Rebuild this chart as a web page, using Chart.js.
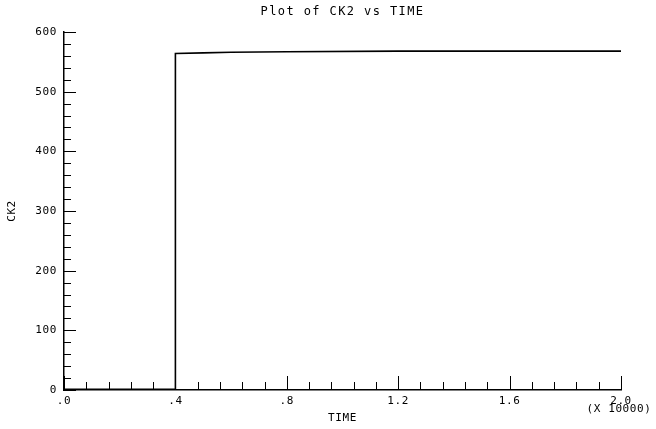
<!DOCTYPE html>
<html>
<head>
<meta charset="utf-8">
<script src="https://cdn.jsdelivr.net/npm/chart.js@4/dist/chart.umd.min.js"></script>
<style>
  html, body { margin: 0; padding: 0; background: #fff; }
  #wrap { width: 656px; height: 429px; }
</style>
</head>
<body>
<div id="wrap"><canvas id="chart" width="656" height="429"></canvas></div>
<script>
// data (time in seconds, axis shown x 10000)
const timeValues = [0, 2000, 3990, 4000, 5000, 6000, 8000, 12000, 16000, 20000];
const ck2Values  = [1, 1, 1, 564, 565, 566, 567, 568, 568, 568];

const xMajorStep = 4000;
const xMinorStep = 800;
const yMajorStep = 100;
const yMinorStep = 20;

const FONT = '"DejaVu Sans Mono", "Liberation Mono", monospace';

// ticks point into the plot, drawn from the chart's own scales
const plotterTicks = {
    id: 'plotterTicks',
    beforeDraw(chart) {
        chart.ctx.letterSpacing = '0.6px';
    },
    afterDraw(chart) {
        const ctx = chart.ctx;
        const xs = chart.scales.x;
        const ys = chart.scales.y;
        const area = chart.chartArea;
        ctx.save();
        ctx.strokeStyle = '#000';
        ctx.lineWidth = 1;
        ctx.beginPath();
        for (let v = 0; v <= xs.max + 1; v += xMinorStep) {
            const px = Math.round(xs.getPixelForValue(v)) + 0.5;
            const len = v % xMajorStep === 0 ? 14 : 8;
            ctx.moveTo(px, area.bottom);
            ctx.lineTo(px, area.bottom - len);
        }
        for (let v = 0; v <= ys.max + 1; v += yMinorStep) {
            const py = Math.round(ys.getPixelForValue(v)) + 0.5;
            const len = v % yMajorStep === 0 ? 12 : 7;
            ctx.moveTo(area.left, py);
            ctx.lineTo(area.left + len, py);
        }
        ctx.stroke();

        ctx.fillStyle = '#000';
        ctx.letterSpacing = '1.4px';
        ctx.font = '12px ' + FONT;
        ctx.textAlign = 'center';
        ctx.textBaseline = 'middle';
        ctx.fillText('Plot of CK2 vs TIME', (area.left + area.right) / 2, 12);

        ctx.letterSpacing = '0.6px';
        ctx.font = '11px ' + FONT;
        ctx.fillText('(X 10000)', 619, 409);
        ctx.restore();
    }
};

new Chart(document.getElementById('chart'), {
    type: 'scatter',
    data: {
        datasets: [{
            data: timeValues.map((t, i) => ({ x: t, y: ck2Values[i] })),
            showLine: true,
            borderColor: '#000',
            borderWidth: 1.6,
            pointRadius: 0,
            tension: 0
        }]
    },
    options: {
        responsive: false,
        animation: false,
        layout: { padding: { top: 32, right: 35, left: 0, bottom: 0 } },
        plugins: {
            legend: { display: false },
            tooltip: { enabled: false }
        },
        scales: {
            x: {
                type: 'linear',
                min: 0,
                max: 20000,
                afterFit(scale) { scale.height = 39; },
                grid: { display: false, drawTicks: false },
                border: { display: true, color: '#000', width: 1.5 },
                ticks: {
                    stepSize: xMinorStep,
                    autoSkip: false,
                    maxRotation: 0,
                    padding: 5,
                    color: '#000',
                    font: { family: FONT, size: 11 },
                    callback(v) {
                        if (v % xMajorStep !== 0) return '';
                        const s = (v / 10000).toFixed(1);
                        return s.startsWith('0') ? s.slice(1) : s;
                    }
                },
                title: {
                    display: true,
                    text: 'TIME',
                    color: '#000',
                    font: { family: FONT, size: 11 },
                    padding: { top: 0, bottom: 4 }
                }
            },
            y: {
                type: 'linear',
                min: 0,
                max: 600,
                afterFit(scale) { scale.width = 64; },
                grid: { display: false, drawTicks: false },
                border: { display: true, color: '#000', width: 1.5 },
                ticks: {
                    stepSize: yMinorStep,
                    autoSkip: false,
                    padding: 7,
                    color: '#000',
                    font: { family: FONT, size: 11 },
                    callback(v) {
                        return v % yMajorStep === 0 ? String(v) : '';
                    }
                },
                title: {
                    display: true,
                    text: 'CK2',
                    color: '#000',
                    font: { family: FONT, size: 11 },
                    padding: { top: 6, bottom: 0 }
                }
            }
        }
    },
    plugins: [plotterTicks]
});
</script>
</body>
</html>
